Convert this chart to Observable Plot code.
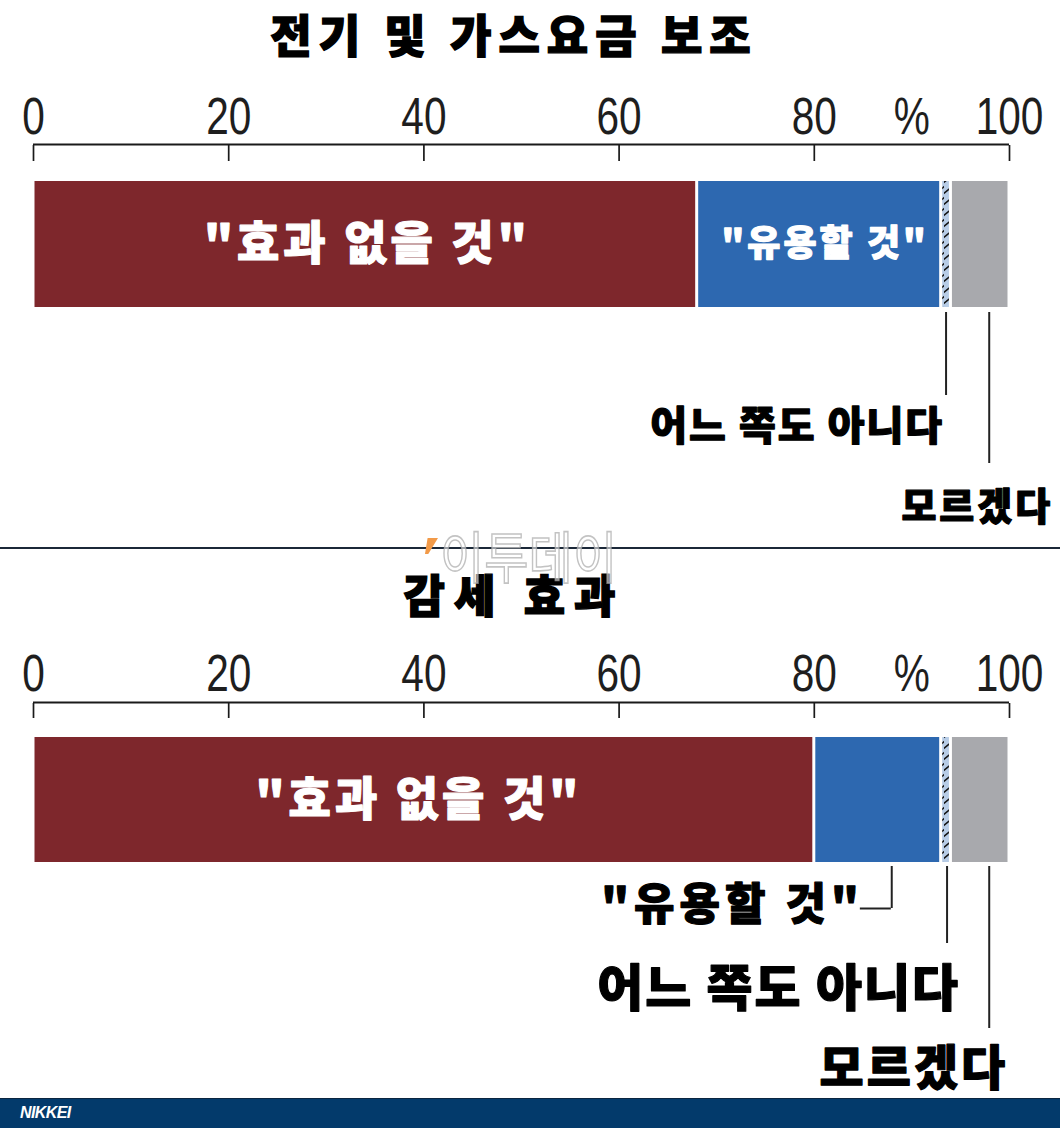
<!DOCTYPE html>
<html>
<head>
<meta charset="utf-8">
<script src="https://cdn.jsdelivr.net/npm/d3@7"></script>
<script src="https://cdn.jsdelivr.net/npm/@observablehq/plot@0.6"></script>
<style>
  html, body { margin: 0; padding: 0; background: #fff; }
  #page { position: relative; width: 1060px; height: 1128px; overflow: hidden; background: #fff; }
  .title { position: absolute; left: 0; width: 1028px; text-align: center; font-family: "Noto Sans CJK KR", sans-serif;
           font-weight: 900; font-size: 45px; line-height: 45px; color: #000; white-space: nowrap;
           -webkit-text-stroke: 1.4px #000; }
  .chart { position: absolute; left: 0; width: 1060px; }
  .chart svg { display: block; overflow: visible; }
  #divider { position: absolute; left: 0; top: 547px; width: 1060px; height: 2px; background: #1b2838; }
  #footer { position: absolute; left: 0; top: 1098px; width: 1060px; height: 30px; background: #033a6b; border-top: 1px solid #0a2540; box-sizing: border-box; }
  #footer span { position: absolute; left: 20px; top: 5px; font-family: "Liberation Sans", Arial, sans-serif; font-weight: bold;
                 font-style: italic; font-size: 16px; line-height: 18px; color: #fff; letter-spacing: -0.6px; }
  #wm { position: absolute; left: 440px; top: 526px; font-family: "Noto Sans CJK KR", sans-serif; font-weight: 400; font-size: 56px;
        line-height: 56px; color: rgba(255,255,255,0.55); -webkit-text-stroke: 1.6px rgba(170,170,170,0.7);
        transform: scaleX(0.86); transform-origin: left top; white-space: nowrap; }
  #wmark { position: absolute; left: 425px; top: 538px; width: 13px; height: 16px; background: #f29a48;
           clip-path: polygon(20% 0, 100% 0, 25% 100%, 0 100%); }
</style>
</head>
<body>
<svg width="0" height="0" style="position:absolute">
  <defs>
    <pattern id="hatch" patternUnits="userSpaceOnUse" width="8" height="11">
      <rect width="8" height="11" fill="#b7cce6"></rect>
      <path d="M-1,9 L9,1" stroke="#111" stroke-width="1.6"></path>
    </pattern>
  </defs>
</svg>
<div id="page">
  <div class="title" id="t1" style="top:11px;letter-spacing:7px"></div>
  <div class="chart" id="c1" style="top:75px"></div>
  <div id="divider"></div>
  <div class="title" id="t2" style="top:571px;letter-spacing:9px"></div>
  <div class="chart" id="c2" style="top:630px"></div>
  <div id="wmark"></div>
  <div id="wm">이투데이</div>
  <div id="footer"><span>NIKKEI</span></div>
</div>
<script>
// ---------- data ----------
const categories = ["효과 없을 것", "유용할 것", "어느 쪽도 아니다", "모르겠다"];
const panelTitles = ["전기 및 가스요금 보조", "감세 효과"];
const subsidyValues = [68, 25, 1, 6];
const taxCutValues = [80, 13, 1, 6];
const tickValues = [0, 20, 40, 60, 80, 100];
const tickLabels = ["0", "20", "40", "60", "80", "100"];
const unitLabel = "%";
const unitAt = 90;
const segmentColors = ["#7e272c", "#2d68b0", "url(#hatch)", "#a8a9ad"];
const quotedCategories = ["효과 없을 것", "유용할 것"];

// ---------- layout (pixels) ----------
const KR = "'Noto Sans CJK KR', 'Noto Sans CJK SC', sans-serif";
const panels = [
  {
    el: "#c1", titleEl: "#t1", title: panelTitles[0], values: subsidyValues,
    height: 472, band: [106, 232], axisY: 69, tickLen: 16, labelBase: 58,
    inside: [
      {cat: categories[0], size: 46, ls: 4, dx: 2},
      {cat: categories[1], size: 36, ls: 3, dx: 6}
    ],
    outside: [
      {cat: categories[2], lineDx: 0, gap: 5, len: 83, labelDx: -2, labelDy: 183, size: 40, ls: 2},
      {cat: categories[3], lineDx: 9, gap: 5, len: 151, labelDx: 73, labelDy: 263, size: 38, ls: 3}
    ]
  },
  {
    el: "#c2", titleEl: "#t2", title: panelTitles[1], values: taxCutValues,
    height: 468, band: [107, 232], axisY: 72, tickLen: 15, labelBase: 60,
    inside: [
      {cat: categories[0], size: 46, ls: 4, dx: -5}
    ],
    outside: [
      {cat: categories[1], lineDx: 14, gap: 4, len: 42, hook: [-17.4, -13.6], labelDx: -14, labelDy: 106, size: 44, ls: 5},
      {cat: categories[2], lineDx: 1, gap: 4, len: 77, labelDx: 14, labelDy: 189.5, size: 50, ls: 2},
      {cat: categories[3], lineDx: 9, gap: 4, len: 162, labelDx: 28, labelDy: 269.5, size: 48, ls: 3}
    ]
  }
];

const label = c => quotedCategories.includes(c) ? `"${c}"` : c;

function stackRows(values) {
  let acc = 0;
  return categories.map((cat, i) => {
    const x1 = acc;
    acc += values[i];
    return {row: "bar", cat, value: values[i], x1, x2: acc, mid: (x1 + acc) / 2, fill: segmentColors[i]};
  });
}

function drawPanel(p) {
  document.querySelector(p.titleEl).textContent = p.title;
  const data = stackRows(p.values);
  const bw = p.band[1] - p.band[0];
  const bandMid = (p.band[0] + p.band[1]) / 2;
  const frameTop = p.axisY + p.tickLen;
  const byCat = c => data.filter(d => d.cat === c);
  const spacing = new Map();

  const marks = [
    Plot.barX(data, {x1: "x1", x2: "x2", y: "row", fill: "fill", insetLeft: 1.5, insetRight: 1.5}),
    Plot.ruleY(data.slice(0, 1), {y: "row", x1: () => tickValues[0], x2: () => tickValues[tickValues.length - 1],
      dy: p.axisY - bandMid, stroke: "#1a1a1a", strokeWidth: 2}),
    Plot.axisX({anchor: "top", ticks: tickValues, tickSize: p.tickLen, tickFormat: () => "", stroke: "#1a1a1a", strokeWidth: 1.7}),
    Plot.axisX({anchor: "top", ticks: [...tickValues, unitAt], tickSize: 0, tickPadding: frameTop - p.labelBase,
      tickFormat: v => v === unitAt ? unitLabel : tickLabels[tickValues.indexOf(v)],
      fontSize: 52, fontFamily: "'Liberation Sans', Arial, sans-serif", fill: "#1e1e1e"})
  ];

  for (const s of p.inside) {
    spacing.set(label(s.cat), s.ls);
    marks.push(Plot.text(byCat(s.cat), {x: "mid", y: "row", text: d => label(d.cat), dx: s.dx,
      fill: "white", stroke: "white", strokeWidth: 1.2, fontSize: s.size, fontWeight: 900, fontFamily: KR}));
  }
  for (const s of p.outside) {
    spacing.set(label(s.cat), s.ls);
    marks.push(Plot.tickX(byCat(s.cat), {x: "mid", y: "row", dx: s.lineDx, insetTop: bw + s.gap,
      insetBottom: -(s.gap + s.len), stroke: "#222", strokeWidth: 2}));
    if (s.hook) {
      marks.push(Plot.ruleY(byCat(s.cat), {y: "row", x1: "mid", x2: "mid", insetLeft: s.hook[0], insetRight: s.hook[1],
        dy: p.band[1] + s.gap + s.len - bandMid, stroke: "#222", strokeWidth: 2}));
    }
    marks.push(Plot.text(byCat(s.cat), {x: "mid", y: "row", text: d => label(d.cat), textAnchor: "end",
      dx: s.labelDx, dy: s.labelDy, fill: "#000", stroke: "#000", strokeWidth: 1.2,
      fontSize: s.size, fontWeight: 900, fontFamily: KR}));
  }

  const svg = Plot.plot({
    width: 1060, height: p.height,
    marginLeft: 33, marginRight: 51, marginTop: frameTop, marginBottom: 0,
    x: {domain: [tickValues[0], tickValues[tickValues.length - 1]]},
    y: {type: "band", domain: ["bar"], range: p.band, padding: 0, axis: null},
    color: {type: "identity"},
    style: {background: "transparent", overflow: "visible"},
    marks
  });

  // condensed tick digits
  svg.querySelectorAll('g[aria-label="x-axis tick label"] text').forEach(t => {
    const tr = t.getAttribute("transform") || "";
    const x = t.getAttribute("x"), y = t.getAttribute("y");
    if (x != null || y != null) {
      t.removeAttribute("x"); t.removeAttribute("y");
      t.setAttribute("transform", `${tr} translate(${x || 0},${y || 0}) scale(0.78,1)`);
    } else {
      t.setAttribute("transform", `${tr} scale(0.78,1)`);
    }
  });
  // letter spacing on labels
  svg.querySelectorAll("text").forEach(t => {
    const ls = spacing.get(t.textContent);
    if (ls) t.style.letterSpacing = ls + "px";
  });
  document.querySelector(p.el).appendChild(svg);
}

panels.forEach(drawPanel);
</script>
</body>
</html>
